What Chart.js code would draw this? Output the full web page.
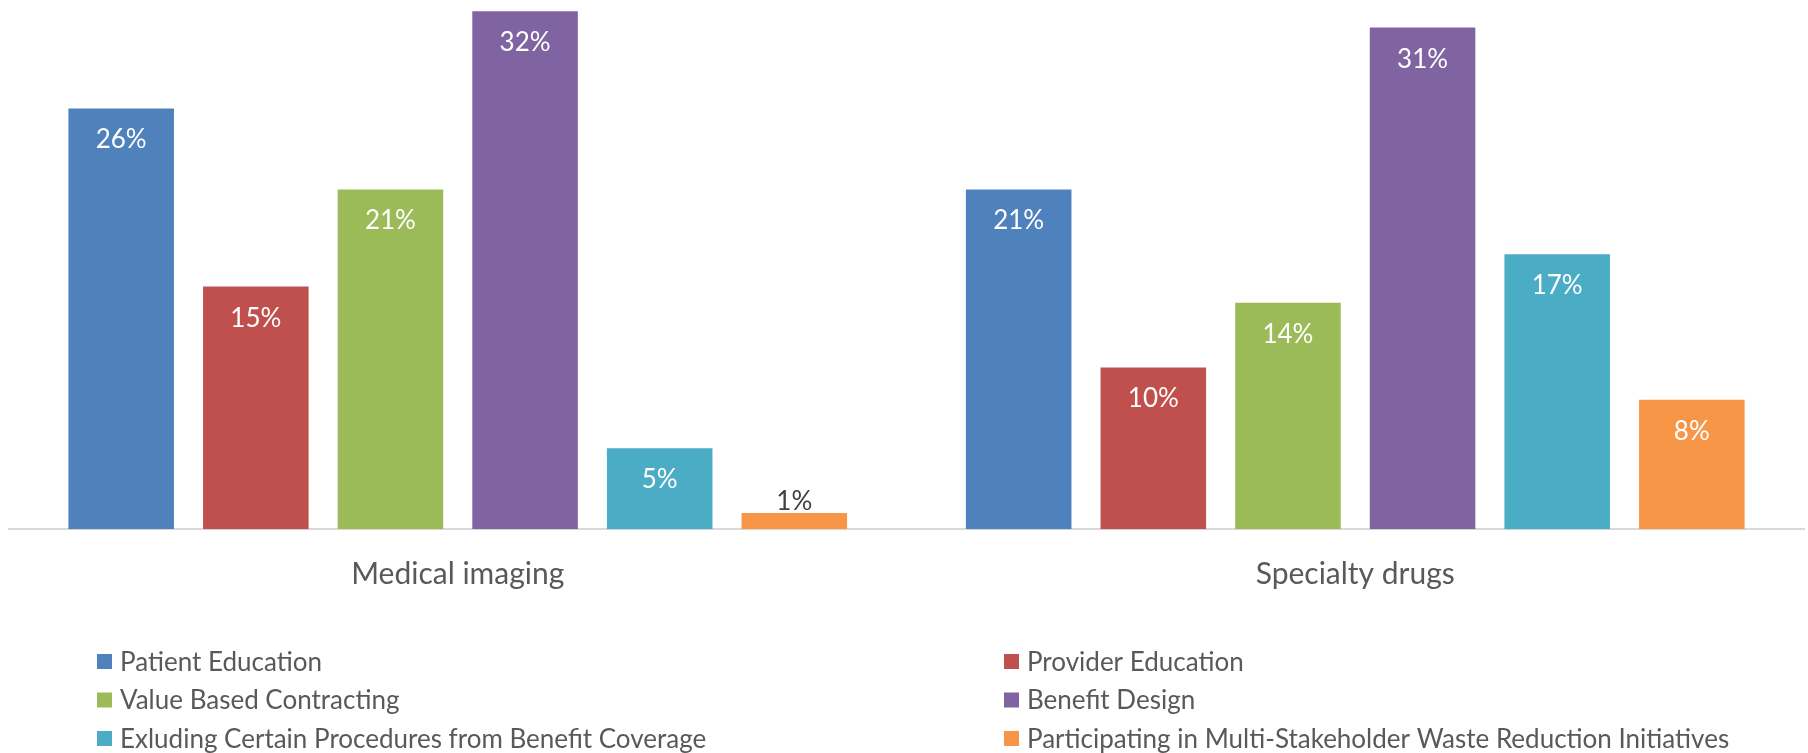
<!DOCTYPE html>
<html>
<head>
<meta charset="utf-8">
<script src="https://cdn.jsdelivr.net/npm/chart.js@4.4.1/dist/chart.umd.min.js"></script>
<style>
  html, body { margin: 0; padding: 0; background: #fff; }
  #wrap { width: 1808px; height: 753px; }
</style>
</head>
<body>
<div id="wrap"><canvas id="chart" width="1808" height="753"></canvas></div>
<script>
// categories on the x axis
const categories = ['Medical imaging', 'Specialty drugs'];

// one series per initiative (percent of respondents)
const seriesNames = [
    'Patient Education',
    'Provider Education',
    'Value Based Contracting',
    'Benefit Design',
    'Exluding Certain Procedures from Benefit Coverage',
    'Participating in Multi-Stakeholder Waste Reduction Initiatives'
];
const patientEducation = [26, 21];
const providerEducation = [15, 10];
const valueBasedContracting = [21, 14];
const benefitDesign = [32, 31];
const excludingProcedures = [5, 17];
const multiStakeholder = [1, 8];

const seriesColors = ['#4f81bd', '#c0504d', '#9bbb59', '#8064a2', '#4bacc6', '#f79646'];

const FONT = 'Lato, "Liberation Sans", sans-serif';
const TEXT_GREY = '#595959';

const seriesValues = [patientEducation, providerEducation, valueBasedContracting,
    benefitDesign, excludingProcedures, multiStakeholder];

// value labels: inside end in white, outside end when the bar is too short
const barLabels = {
    id: 'barLabels',
    afterDatasetsDraw(chart) {
        const ctx = chart.ctx;
        ctx.save();
        ctx.font = '26px ' + FONT;
        ctx.textAlign = 'center';
        ctx.textBaseline = 'alphabetic';
        chart.data.datasets.forEach((ds, i) => {
            chart.getDatasetMeta(i).data.forEach((bar, j) => {
                const txt = ds.data[j] + '%';
                const h = bar.base - bar.y;
                if (h > 45) {
                    ctx.fillStyle = '#ffffff';
                    ctx.fillText(txt, bar.x, bar.y + 40);
                } else {
                    ctx.fillStyle = '#404040';
                    ctx.fillText(txt, bar.x, bar.y - 3);
                }
            });
        });
        ctx.restore();
    }
};

// two-column legend under the axis labels
const gridLegend = {
    id: 'gridLegend',
    afterDraw(chart) {
        const ctx = chart.ctx;
        const cols = [97, 1004];
        const rows = [661.5, 700, 738.5];
        ctx.save();
        ctx.font = '26px ' + FONT;
        ctx.textBaseline = 'middle';
        ctx.textAlign = 'left';
        chart.data.datasets.forEach((ds, i) => {
            const x = cols[i % 2];
            const y = rows[Math.floor(i / 2)];
            ctx.fillStyle = ds.backgroundColor;
            ctx.fillRect(x, y - 7.5, 15, 15);
            ctx.fillStyle = TEXT_GREY;
            ctx.fillText(ds.label, x + 23, y + 1);
        });
        ctx.restore();
    }
};

new Chart(document.getElementById('chart').getContext('2d'), {
    type: 'bar',
    data: {
        labels: categories,
        datasets: seriesNames.map((name, i) => ({
            label: name,
            data: seriesValues[i],
            backgroundColor: seriesColors[i],
            borderWidth: 0,
            categoryPercentage: 0.9,
            barPercentage: 0.784
        }))
    },
    options: {
        responsive: false,
        animation: false,
        layout: { padding: { left: 9, right: 4, top: 0, bottom: 0 } },
        scales: {
            x: {
                grid: { display: false },
                border: { display: true, color: '#d9d9d9', width: 2 },
                ticks: { color: TEXT_GREY, font: { family: FONT, size: 30 }, padding: 19 },
                afterFit(scale) { scale.height = 753 - 529.3; }
            },
            y: {
                display: false,
                min: 0,
                max: 32.7
            }
        },
        plugins: {
            legend: { display: false },
            tooltip: { enabled: false }
        }
    },
    plugins: [barLabels, gridLegend]
});
</script>
</body>
</html>
